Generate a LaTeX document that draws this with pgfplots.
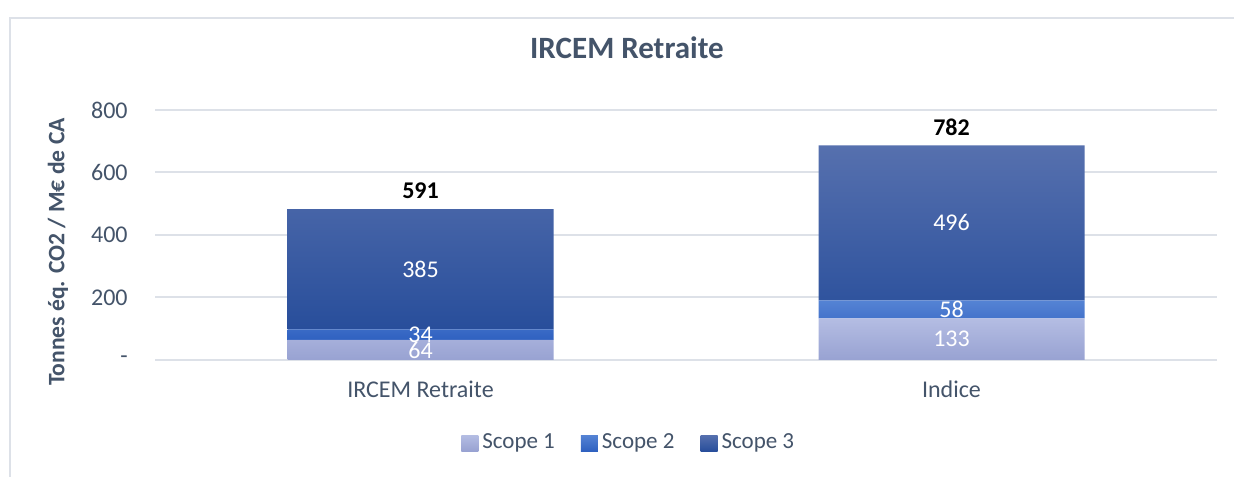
\documentclass[border=0pt]{standalone}
\usepackage{fontspec}
\setmainfont{Carlito}
\usepackage{pgfplots}
\pgfplotsset{compat=1.18}
\definecolor{txt}{HTML}{44546A}
\definecolor{gridc}{HTML}{DDE1E8}
\definecolor{sAtop}{HTML}{B4BDE3}
\definecolor{sAbot}{HTML}{98A2D2}
\definecolor{sBtop}{HTML}{5583D4}
\definecolor{sBbot}{HTML}{2F61C0}
\definecolor{sCtop}{HTML}{5670AE}
\definecolor{sCbot}{HTML}{284E9B}
\pgfplotsset{
  seglabel/.style={
    nodes near coords={\pgfmathprintnumber{\rawy}},
    visualization depends on=rawy \as \rawy,
    every node near coord/.append style={anchor=center, inner sep=0pt,
      text=white,
      font=\fontsize{12pt}{12pt}\selectfont}
  }
}
\begin{document}
\begin{tikzpicture}
\useasboundingbox (0,0) rectangle (617pt,238pt);
\fill[white] (0,0) rectangle (617pt,238pt);
\draw[gridc, line width=0.7pt] (5pt,-5pt) -- (5pt,229pt) -- (625pt,229pt);
\begin{axis}[
  at={(77.5pt,58pt)}, anchor=south west,
  scale only axis, width=531pt, height=125pt,
  ybar stacked, bar width=133pt,
  xmin=-0.5, xmax=1.5, ymin=0, ymax=800,
  xtick={0,1}, xticklabels={IRCEM Retraite, Indice},
  ytick={0,200,400,600,800}, yticklabels={-,200,400,600,800},
  ymajorgrids, grid style={gridc, line width=1pt},
  axis line style={draw=none},
  major tick length=0pt,
  /pgf/number format/assume math mode=true,
  tick label style={text=txt, font=\fontsize{12pt}{12pt}\selectfont},
  yticklabel style={anchor=east, inner sep=0pt, xshift=-13.5pt},
  xticklabel style={anchor=base, inner sep=0pt, yshift=-18.8pt},
  title={IRCEM Retraite},
  title style={at={(rel axis cs:0.4444,1.2)}, anchor=center, text=txt,
    font=\bfseries\fontsize{15.5pt}{15.5pt}\selectfont},
  ylabel={Tonnes éq. CO2 / M€ de CA},
  ylabel style={at={(rel axis cs:-0.0913,0.432)}, anchor=center, rotate=0, text=txt,
    font=\bfseries\fontsize{11.8pt}{11.8pt}\selectfont},
  legend columns=-1,
  legend style={at={(rel axis cs:0.447,-0.332)}, anchor=center, draw=none, fill=none,
    text=txt, font=\fontsize{11.5pt}{11.5pt}\selectfont,
    /tikz/every even column/.append style={column sep=11pt}},
  legend image code/.code={\path[#1,draw=none] (0pt,-4pt) rectangle (8.5pt,4pt);},
]
\addplot[draw=none, top color=sAtop, bottom color=sAbot, seglabel]
  coordinates {(0,64) (1,133)};
\addlegendentry{Scope 1}
\addplot[draw=none, top color=sBtop, bottom color=sBbot, seglabel]
  coordinates {(0,34) (1,58)};
\addlegendentry{Scope 2}
\addplot[draw=none, top color=sCtop, bottom color=sCbot, seglabel]
  coordinates {(0,385) (1,496)};
\addlegendentry{Scope 3}
\addplot[draw=none, fill=none, point meta=explicit symbolic,
  nodes near coords,
  every node near coord/.append style={anchor=south, inner sep=0pt, yshift=4.8pt,
    text=black, font=\bfseries\fontsize{12pt}{12pt}\selectfont}]
  coordinates {(0,0.01)[591] (1,0.01)[782]};
\end{axis}
\end{tikzpicture}
\end{document}
